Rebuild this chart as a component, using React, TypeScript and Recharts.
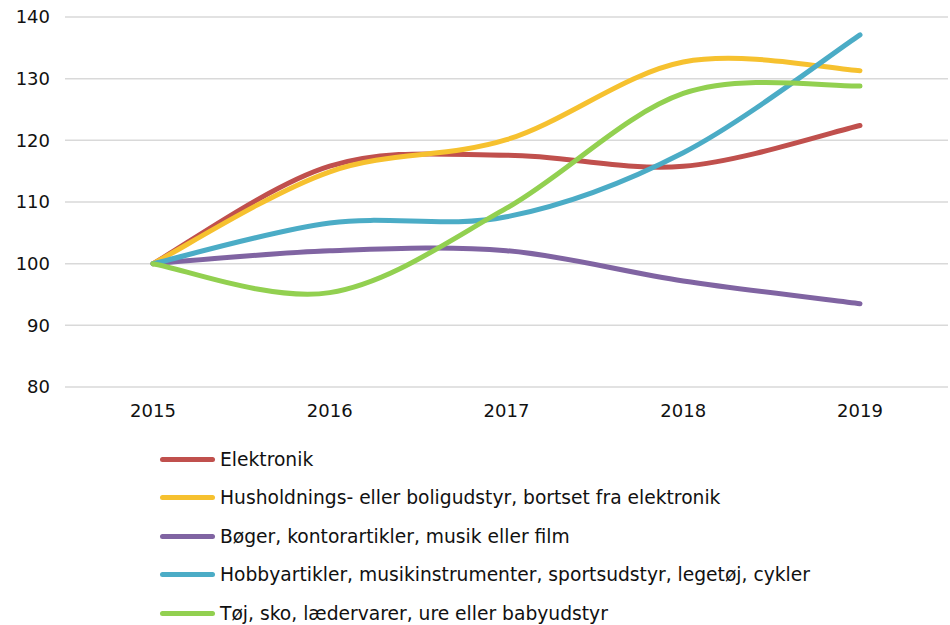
import { LineChart, Line, XAxis, YAxis, CartesianGrid } from "recharts";

const years = ["2015", "2016", "2017", "2018", "2019"];
const elektronik = [100, 115.8, 117.6, 115.8, 122.4];
const husholdning = [100, 114.9, 120.1, 132.7, 131.3];
const boeger = [100, 102.1, 102.1, 97.2, 93.5];
const hobby = [100, 106.6, 107.6, 118.0, 137.1];
const toej = [100, 95.3, 109.0, 127.6, 128.8];
const yTicks = [80, 90, 100, 110, 120, 130, 140];

const series = [
  { key: "elektronik", name: "Elektronik", color: "#C0504D", values: elektronik },
  { key: "husholdning", name: "Husholdnings- eller boligudstyr, bortset fra elektronik", color: "#F6C12F", values: husholdning },
  { key: "boeger", name: "Bøger, kontorartikler, musik eller film", color: "#8064A2", values: boeger },
  { key: "hobby", name: "Hobbyartikler, musikinstrumenter, sportsudstyr, legetøj, cykler", color: "#4BACC6", values: hobby },
  { key: "toej", name: "Tøj, sko, lædervarer, ure eller babyudstyr", color: "#92D050", values: toej },
];

const data = years.map((year, i) => {
  const row: Record<string, string | number> = { year };
  series.forEach((s) => (row[s.key] = s.values[i]));
  return row;
});

// smoothed line like Excel's (catmull-rom through the points)
function smoothCurve(context: any) {
  let pts: number[][] = [];
  return {
    areaStart() {},
    areaEnd() {},
    lineStart() {
      pts = [];
    },
    point(x: number, y: number) {
      pts.push([+x, +y]);
    },
    lineEnd() {
      const n = pts.length;
      if (!n) return;
      context.moveTo(pts[0][0], pts[0][1]);
      for (let i = 0; i < n - 1; i++) {
        const p0 = pts[Math.max(i - 1, 0)];
        const p1 = pts[i];
        const p2 = pts[i + 1];
        const p3 = pts[Math.min(i + 2, n - 1)];
        context.bezierCurveTo(
          p1[0] + (p2[0] - p0[0]) / 6,
          p1[1] + (p2[1] - p0[1]) / 6,
          p2[0] - (p3[0] - p1[0]) / 6,
          p2[1] - (p3[1] - p1[1]) / 6,
          p2[0],
          p2[1]
        );
      }
    },
  };
}

const font = "'DejaVu Sans', Verdana, sans-serif";

export default function App() {
  return (
    <div style={{ position: "absolute", left: 0, top: 0, width: 950, height: 625, background: "#fff", fontFamily: font }}>
      <LineChart width={950} height={440} data={data} margin={{ top: 17, right: 2, left: 0, bottom: 13 }}>
        <CartesianGrid vertical={false} stroke="#d9d9d9" strokeWidth={1.5} />
        <XAxis
          dataKey="year"
          axisLine={false}
          tickLine={false}
          padding={{ left: 88, right: 88 }}
          height={40}
          tickMargin={11}
          tick={{ fill: "#111", fontSize: 18, fontFamily: font }}
        />
        <YAxis
          domain={[80, 140]}
          ticks={yTicks}
          axisLine={false}
          tickLine={false}
          width={65}
          tickMargin={9}
          tick={{ fill: "#111", fontSize: 18, fontFamily: font }}
        />
        {series.map((s) => (
          <Line
            key={s.key}
            dataKey={s.key}
            name={s.name}
            type={smoothCurve as any}
            stroke={s.color}
            strokeWidth={5}
            strokeLinecap="round"
            dot={false}
            activeDot={false}
            isAnimationActive={false}
          />
        ))}
      </LineChart>
      <div style={{ position: "absolute", left: 160, top: 440 }}>
        {series.map((s) => (
          <div key={s.key} style={{ display: "flex", alignItems: "center", height: 38.5 }}>
            <div style={{ width: 55, height: 5, borderRadius: 3, background: s.color, marginRight: 5 }} />
            <span style={{ fontSize: 18.7, color: "#111", whiteSpace: "nowrap" }}>{s.name}</span>
          </div>
        ))}
      </div>
    </div>
  );
}
